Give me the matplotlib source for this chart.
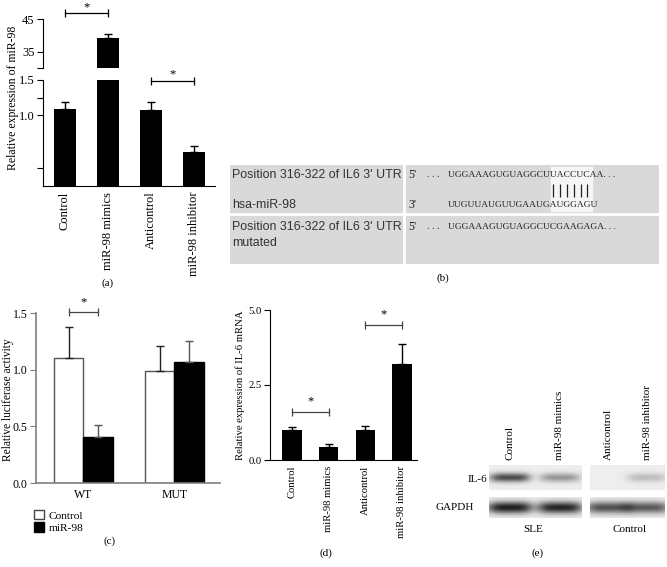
import numpy as np
import matplotlib
matplotlib.use('Agg')
import matplotlib.pyplot as plt
from matplotlib.patches import Rectangle, Patch

plt.rcParams['font.family'] = ['Liberation Serif', 'DejaVu Serif']

# (a) relative expression of miR-98
a_groups = ['Control', 'miR-98 mimics', 'Anticontrol', 'miR-98 inhibitor']
a_mean = [1.09, 39.2, 1.075, 0.48]
a_err = [0.10, 1.1, 0.11, 0.09]

# (b) binding site table
b_names = ["Position 316-322 of IL6 3' UTR", 'hsa-miR-98', "Position 316-322 of IL6 3' UTR", 'mutated']
b_ends = ["5'", "3'", "5'"]
b_seqs = ['UGGAAAGUGUAGGCUUACCUCAA', 'UUGUUAUGUUGAAUGAUGGAGU', 'UGGAAAGUGUAGGCUCGAAGAGA']
b_pairs = [15, 16, 17, 18, 19, 20]

# (c) relative luciferase activity
c_groups = ['WT', 'MUT']
c_control = [1.10, 0.99]
c_control_err = [0.28, 0.22]
c_mir98 = [0.41, 1.07]
c_mir98_err = [0.10, 0.18]

# (d) relative expression of IL-6 mRNA
d_groups = ['Control', 'miR-98 mimics', 'Anticontrol', 'miR-98 inhibitor']
d_mean = [1.0, 0.43, 1.0, 3.2]
d_err = [0.10, 0.10, 0.13, 0.67]

# (e) western blot band intensities
e_lanes = ['Control', 'miR-98 mimics', 'Anticontrol', 'miR-98 inhibitor']
e_il6 = [0.75, 0.40, 0.0, 0.22]
e_gapdh = [0.95, 0.92, 0.72, 0.68]
e_sets = ['SLE', 'Control']

W, H = 667, 567
fig = plt.figure(figsize=(W / 100, H / 100), dpi=100)


def px_axes(x0, y0, x1, y1):
    return fig.add_axes([x0 / W, 1 - y1 / H, (x1 - x0) / W, (y1 - y0) / H])


def px_text(x, y, s, **kw):
    fig.text(x / W, 1 - y / H, s, **kw)


def bracket(ax, x1, x2, y, ystar, color='black'):
    ax.plot([x1, x2], [y, y], color=color, lw=0.9, clip_on=False)
    ax.plot([x1, x2], [y, y], ls='none', marker='|', ms=6, mew=0.9, color=color, clip_on=False)
    ax.text((x1 + x2) / 2, ystar, '*', ha='center', va='center', fontsize=9, clip_on=False)


# ---------------- (a) ----------------
xa = np.arange(len(a_groups))
ax_top = px_axes(43, 19, 215, 68)
ax_bot = px_axes(43, 80, 215, 186)
for ax in (ax_top, ax_bot):
    ax.bar(xa, a_mean, width=0.51, color='black')
    ax.errorbar(xa, a_mean, yerr=[np.zeros(len(a_mean)), a_err], fmt='none',
                ecolor='black', elinewidth=1, capsize=3, capthick=1)
    ax.set_xlim(-0.51, 3.49)
    ax.spines['top'].set_visible(False)
    ax.spines['right'].set_visible(False)
    ax.tick_params(axis='y', labelsize=9, length=4, pad=2)
ax_top.set_ylim(30, 45)
ax_top.spines['bottom'].set_visible(False)
ax_top.set_xticks([])
ax_top.set_yticks([30, 35, 45])
ax_top.set_yticklabels(['', '35', '45'])
ax_bot.set_ylim(0, 1.5)
ax_bot.set_yticks([0.25, 1.0, 1.25, 1.5])
ax_bot.set_yticklabels(['', '1.0', '', '1.5'])
ax_bot.set_xticks(xa)
ax_bot.set_xticklabels(a_groups, rotation=90, fontsize=9)
ax_bot.tick_params(axis='x', length=0, pad=4)
bracket(ax_top, 0, 1, 46.8, 48.7)
bracket(ax_bot, 2, 3, 1.485, 1.58)
px_text(13, 98, 'Relative expression of miR-98', rotation=90, ha='center', va='center', fontsize=8.5)
px_text(108, 283, '(a)', ha='center', va='center', fontsize=8)

# ---------------- (b) ----------------
ax_b = px_axes(230, 165, 659, 264)
ax_b.set_xlim(230, 659)
ax_b.set_ylim(264, 165)
ax_b.axis('off')
ax_b.add_patch(Rectangle((230, 165), 429, 99, color='#d9d9d9'))
ax_b.add_patch(Rectangle((551, 167), 41, 44, color='white', alpha=0.75))
ax_b.plot([230, 659], [214, 214], color='white', lw=2)
ax_b.plot([404, 404], [165, 264], color='white', lw=2)
for name, yy in zip(b_names, [175, 205, 227, 243]):
    ax_b.text(232, yy, name, ha='left', va='center', fontsize=8.9,
              family='Liberation Sans', color='#333333')
for end, seq, yy, dots in zip(b_ends, b_seqs, [175, 205, 227], [True, False, True]):
    ax_b.text(408, yy, end, ha='left', va='center', fontsize=8.5, color='#222222')
    if dots:
        ax_b.text(427, yy, '. . .', ha='left', va='center', fontsize=7, color='#222222')
        seq = seq + '. . .'
    ax_b.text(448, yy, seq, ha='left', va='center', fontsize=6.8, color='#222222')
pitch = 6.8
ax_b.vlines([448 + pitch * (i + 0.5) for i in b_pairs], 184, 197, color='#222222', lw=0.9)
px_text(443, 278, '(b)', ha='center', va='center', fontsize=8)

# ---------------- (c) ----------------
ax_c = px_axes(36, 313, 220, 483)
xc = np.arange(len(c_groups))
w = 0.32
ax_c.bar(xc - w / 2, c_control, w, color='white', edgecolor='#555555', lw=1)
ax_c.bar(xc + w / 2, c_mir98, w, color='black', edgecolor='black', lw=1)
ax_c.errorbar(xc - w / 2, c_control, yerr=[np.zeros(2), c_control_err], fmt='none',
              ecolor='#222222', elinewidth=1, capsize=3, capthick=1)
ax_c.errorbar(xc + w / 2, c_mir98, yerr=[np.zeros(2), c_mir98_err], fmt='none',
              ecolor='#555555', elinewidth=1, capsize=3, capthick=1)
ax_c.set_xlim(-0.52, 1.5)
ax_c.set_ylim(0, 1.5)
ax_c.set_yticks([0, 0.5, 1.0, 1.5])
ax_c.set_yticklabels(['0.0', '0.5', '1.0', '1.5'])
ax_c.set_xticks(xc)
ax_c.set_xticklabels(c_groups)
for s in ['top', 'right']:
    ax_c.spines[s].set_visible(False)
for s in ['left', 'bottom']:
    ax_c.spines[s].set_color('#7f7f7f')
    ax_c.spines[s].set_linewidth(1.2)
ax_c.tick_params(axis='y', labelsize=8.5, length=4, color='#7f7f7f', pad=2)
ax_c.tick_params(axis='x', labelsize=8.5, length=0, pad=4)
bracket(ax_c, -w / 2, w / 2, 1.51, 1.59, color='#444444')
px_text(8, 400, 'Relative luciferase activity', rotation=90, ha='center', va='center', fontsize=8.3)
fig.legend([Patch(facecolor='white', edgecolor='#444444'), Patch(facecolor='black', edgecolor='black')],
           ['Control', 'miR-98'], loc='upper left', bbox_to_anchor=(34 / W, 1 - 510 / H),
           frameon=False, fontsize=8.2, handlelength=0.9, handleheight=0.9,
           handletextpad=0.4, labelspacing=0.15, borderpad=0, borderaxespad=0)
px_text(110, 541, '(c)', ha='center', va='center', fontsize=8)

# ---------------- (d) ----------------
ax_d = px_axes(270, 310, 417, 460)
xd = np.arange(len(d_groups))
ax_d.bar(xd, d_mean, width=0.52, color='black')
ax_d.errorbar(xd, d_mean, yerr=[np.zeros(len(d_mean)), d_err], fmt='none',
              ecolor='black', elinewidth=1, capsize=3, capthick=1)
ax_d.set_xlim(-0.6, 3.41)
ax_d.set_ylim(0, 5)
ax_d.set_yticks([0, 2.5, 5.0])
ax_d.set_yticklabels(['0.0', '2.5', '5.0'])
ax_d.set_xticks(xd)
ax_d.set_xticklabels(d_groups, rotation=90, fontsize=7.7)
for s in ['top', 'right']:
    ax_d.spines[s].set_visible(False)
ax_d.tick_params(axis='y', labelsize=7.7, length=4, pad=2)
ax_d.tick_params(axis='x', length=0, pad=4)
bracket(ax_d, 0, 1, 1.6, 1.97, color='#444444')
bracket(ax_d, 2, 3, 4.5, 4.85, color='#444444')
px_text(240, 385, 'Relative expression of IL-6 mRNA', rotation=90, ha='center', va='center', fontsize=7.7)
px_text(326, 553, '(d)', ha='center', va='center', fontsize=8)

# ---------------- (e) ----------------
ax_e = px_axes(483, 460, 667, 520)
ax_e.axis('off')
lane_x = [510, 560, 608, 647]
strips = [(489, 582, [0, 1]), (590, 665, [2, 3])]


def strip_img(x0, x1, y0, y1, idx, vals, hw, hh):
    xs = np.arange(x0, x1) + 0.5
    ys = np.arange(y0, y1) + 0.5
    X, Y = np.meshgrid(xs, ys)
    yc = (y0 + y1) / 2
    dark = np.zeros_like(X)
    for i in idx:
        dark += vals[i] * np.exp(-0.5 * ((X - lane_x[i]) / hw) ** 4) * np.exp(-0.5 * ((Y - yc) / hh) ** 2)
    return np.clip(0.93 - 0.85 * dark, 0, 1)


for x0, x1, idx in strips:
    img = strip_img(x0, x1, 465, 490, idx, e_il6, 17, 3.2)
    ax_e.imshow(img, cmap='gray', vmin=0, vmax=1, extent=(x0, x1, 490, 465),
                aspect='auto', interpolation='bilinear')
    img = strip_img(x0, x1, 497, 518, idx, e_gapdh, 19, 4.2)
    ax_e.imshow(img, cmap='gray', vmin=0, vmax=1, extent=(x0, x1, 518, 497),
                aspect='auto', interpolation='bilinear')
ax_e.set_xlim(483, 667)
ax_e.set_ylim(520, 460)
for lx, name in zip(lane_x, e_lanes):
    px_text(lx, 460, name, rotation=90, ha='center', va='bottom', fontsize=8)
px_text(477, 479, 'IL-6', ha='center', va='center', fontsize=8)
px_text(455, 508, 'GAPDH', ha='center', va='center', fontsize=8)
px_text(533, 530, e_sets[0], ha='center', va='center', fontsize=8)
px_text(630, 530, e_sets[1], ha='center', va='center', fontsize=8)
px_text(538, 553, '(e)', ha='center', va='center', fontsize=8)

fig.savefig('out.png', dpi=100)
